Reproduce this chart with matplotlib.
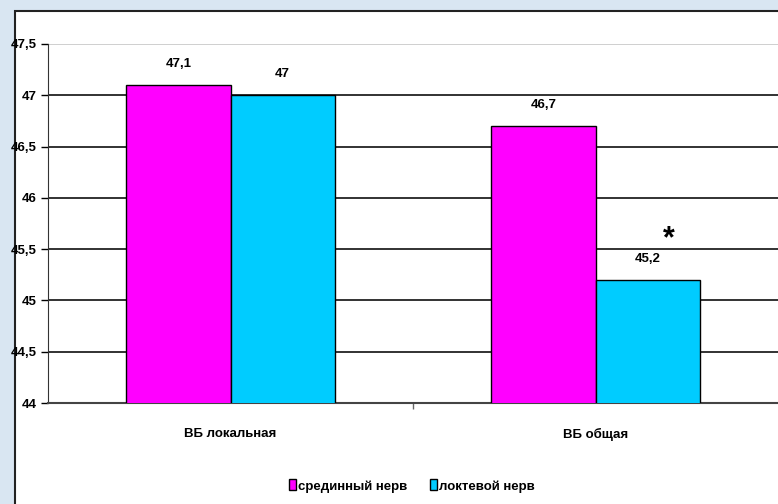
import numpy as np
import matplotlib
matplotlib.use('Agg')
import matplotlib.pyplot as plt
from matplotlib.patches import Rectangle
from matplotlib.ticker import FuncFormatter

plt.rcParams['font.family'] = ['Liberation Sans', 'DejaVu Sans']
plt.rcParams['font.weight'] = 'bold'

categories = ['ВБ локальная', 'ВБ общая']
series_names = ['срединный нерв', 'локтевой нерв']
median_vals = [47.1, 46.7]
ulnar_vals = [47.0, 45.2]
colors = ['#ff00ff', '#00ccff']

fig = plt.figure(figsize=(7.78, 5.04), dpi=100)
fig.patch.set_facecolor('#d9e6f2')

# white chart area with a dark border
fig.patches.append(Rectangle((15 / 778, -0.01), 1, 1.01 - 11 / 504, transform=fig.transFigure,
                             facecolor='white', edgecolor='#222222', linewidth=1.5, zorder=-5))

ax = fig.add_axes([48 / 778, 1 - 403 / 504, 1 - 48 / 778, (403 - 44) / 504])
ax.set_zorder(2)
ax.set_facecolor('none')

x = np.arange(len(categories))
w = 0.285
b1 = ax.bar(x - w / 2, median_vals, w, color=colors[0], edgecolor='black',
            linewidth=1, label=series_names[0], zorder=3)
b2 = ax.bar(x + w / 2, ulnar_vals, w, color=colors[1], edgecolor='black',
            linewidth=1, label=series_names[1], zorder=3)

ax.set_ylim(44, 47.5)
ax.set_xlim(-0.5, 1.5)
ax.set_yticks(np.arange(44, 47.51, 0.5))
ax.yaxis.set_major_formatter(FuncFormatter(lambda v, p: ('%g' % v).replace('.', ',')))
ax.tick_params(axis='y', length=5, width=1, labelsize=9.5, pad=3)

ax.set_xticks([0.5])
ax.set_xticklabels([])
ax.tick_params(axis='x', length=4, width=1, color='#666666')
ax.set_xticks(x, minor=True)
ax.set_xticklabels(categories, minor=True, fontsize=9.5, fontweight='bold')
ax.tick_params(axis='x', which='minor', length=0, pad=18)

ax.yaxis.grid(True, color='#222222', linewidth=1.3, zorder=1)
ax.get_ygridlines()[-1].set_color('#cccccc')
ax.set_axisbelow(True)
for s in ['top', 'right']:
    ax.spines[s].set_visible(False)
ax.spines['left'].set_color('#333333')
ax.spines['bottom'].set_color('#444444')
ax.spines['bottom'].set_linewidth(1.5)

for bars in (b1, b2):
    for r in bars:
        v = r.get_height()
        ax.annotate(('%g' % v).replace('.', ','), (r.get_x() + r.get_width() / 2, v),
                    xytext=(0, 15), textcoords='offset points', ha='center', va='center',
                    fontsize=9.5, fontweight='bold')

ax.text(1.2, 45.6, '*', ha='center', va='center', fontsize=22, fontweight='bold')

fig.legend(handles=[b1, b2], labels=series_names, loc='center',
           bbox_to_anchor=(412 / 778, 1 - 486 / 504), ncol=2, frameon=False,
           fontsize=9.5, handlelength=0.5, handleheight=0.9, handletextpad=0.2,
           columnspacing=1.7)

fig.savefig('out.png', dpi=100, facecolor=fig.get_facecolor())
